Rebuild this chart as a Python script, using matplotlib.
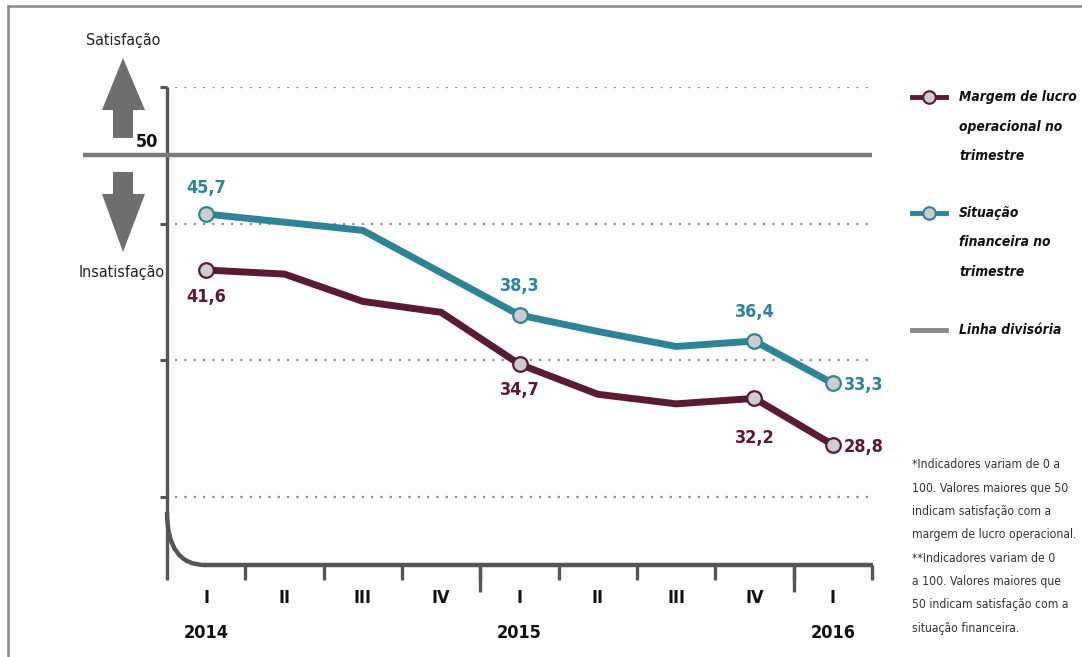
import os
import numpy as np
import matplotlib
matplotlib.use("Agg")
import matplotlib.pyplot as plt
from matplotlib import font_manager
from matplotlib.font_manager import FontProperties
from matplotlib.patches import Polygon, PathPatch
from matplotlib.path import Path

# ---------------------------------------------------------------- #
# Data
# ---------------------------------------------------------------- #
quarters = ['I', 'II', 'III', 'IV', 'I', 'II', 'III', 'IV', 'I']
years = ['2014', '2015', '2016']
year_pos = [0, 4, 8]
margem = [41.6, 41.3, 39.3, 38.5, 34.7, 32.5, 31.8, 32.2, 28.8]
situacao = [45.7, 45.1, 44.5, 41.4, 38.3, 37.1, 36.0, 36.4, 33.3]
labelled = [0, 4, 7, 8]          # points that carry a value label
divisoria = 50

legend_margem = ['Margem de lucro', 'operacional no', 'trimestre']
legend_situacao = ['Situação', 'financeira no', 'trimestre']
legend_linha = ['Linha divisória']
notes = ['*Indicadores variam de 0 a',
         '100. Valores maiores que 50',
         'indicam satisfação com a',
         'margem de lucro operacional.',
         '**Indicadores variam de 0',
         'a 100. Valores maiores que',
         '50 indicam satisfação com a',
         'situação financeira.']

# colours
TEAL = '#2b8599'
MAROON = '#5b1934'
GREY = '#7b7b7b'
MARKER = '#cdcdcd'

# ---------------------------------------------------------------- #
# fonts: look for a condensed family on the machine
# ---------------------------------------------------------------- #
families = [
    ('NotoSans-ExtraCondensed.ttf', 'NotoSans-ExtraCondensedBold.ttf', 'NotoSans-ExtraCondensedBoldItalic.ttf'),
    ('NotoSans-Condensed.ttf', 'NotoSans-CondensedBold.ttf', 'NotoSans-CondensedBoldItalic.ttf'),
    ('LiberationSansNarrow-Regular.ttf', 'LiberationSansNarrow-Bold.ttf', 'LiberationSansNarrow-BoldItalic.ttf'),
    ('DejaVuSansCondensed.ttf', 'DejaVuSansCondensed-Bold.ttf', 'DejaVuSansCondensed-BoldOblique.ttf'),
]
files = {os.path.basename(f.fname): f.fname for f in font_manager.fontManager.ttflist}
REG = BOLD = BI = None
for fam in families:
    if all(n in files for n in fam):
        REG, BOLD, BI = [FontProperties(fname=files[n]) for n in fam]
        break
if REG is None:
    REG = FontProperties(family='Liberation Sans')
    BOLD = FontProperties(family='Liberation Sans', weight='bold')
    BI = FontProperties(family='Liberation Sans', weight='bold', style='italic')

W, H = 1082, 657
fig = plt.figure(figsize=(W / 100, H / 100), dpi=100)
renderer = fig.canvas.get_renderer()


def sized(base, size):
    p = base.copy()
    p.set_size(size)
    return p


def fit(base, text, width_px):
    # font size so the longest line of a block is width_px wide
    t = fig.text(0, 0, text, fontproperties=base, fontsize=10)
    w = t.get_window_extent(renderer).width
    t.remove()
    return sized(base, 10 * width_px / w)


F_SIDE = sized(REG, 11.5)
F_VAL = sized(BOLD, 13)
F_TICK = sized(BOLD, 13)
F_LEG = fit(BI, 'Margem de lucro', 117)
F_NOTE = fit(REG, 'margem de lucro operacional.', 164)

# overlay in pixel coords for the decorations
ov = fig.add_axes([0, 0, 1, 1], zorder=0)
ov.set_xlim(0, W)
ov.set_ylim(H, 0)
ov.axis('off')

# data axes
L, R, T, B = 167, 872, 87, 565
ax = fig.add_axes([L / W, 1 - B / H, (R - L) / W, (B - T) / H], zorder=1)
ax.patch.set_alpha(0)
ax.set_xlim(-0.5, 8.5)
ax.set_ylim(20, 55)
for s in ax.spines.values():
    s.set_visible(False)

x = np.arange(len(quarters))

# dotted guide lines
for yv in [25, 35, 45, 55]:
    ax.axhline(yv, xmin=0.012, xmax=1.0, color='#8c8c8c', lw=1.6,
               linestyle=(0, (1, 3.2)), zorder=1)
ax.set_yticks([25, 35, 45, 55])
ax.tick_params(axis='y', length=5, width=2.2, color='#555555', labelleft=False)

# dividing line at 50
ax.plot([-0.119, 1.0], [divisoria, divisoria], transform=ax.get_yaxis_transform(),
        color=GREY, lw=3.2, clip_on=False, solid_capstyle='butt', zorder=2)
ax.annotate('50', xy=(0, divisoria), xycoords=ax.get_yaxis_transform(),
            xytext=(-9, 4), textcoords='offset pixels', ha='right', va='bottom',
            fontproperties=F_VAL, color='#111111')

# series
ax.plot(x, situacao, color=TEAL, lw=5, marker='o', ms=10.5, mfc=MARKER, mec=TEAL,
        mew=1.6, markevery=labelled, zorder=4, solid_joinstyle='miter')
ax.plot(x, margem, color=MAROON, lw=5, marker='o', ms=10.5, mfc=MARKER, mec=MAROON,
        mew=1.6, markevery=labelled, zorder=4, solid_joinstyle='miter')

# value labels
off_sit = {0: (0, 26), 4: (0, 29), 7: (0, 29), 8: (11, -2)}
off_mar = {0: (0, -27), 4: (0, -26), 7: (0, -40), 8: (11, -2)}
for i in labelled:
    for vals, offs, c in [(situacao, off_sit, TEAL), (margem, off_mar, MAROON)]:
        dx, dy = offs[i]
        ax.annotate(f'{vals[i]:.1f}'.replace('.', ','), xy=(x[i], vals[i]),
                    xytext=(dx, dy), textcoords='offset pixels',
                    ha='left' if dx else 'center', va='center',
                    fontproperties=F_VAL, color=c, zorder=5)

# x axis ticks and labels
ax.set_xticks(x)
ax.set_xticklabels(quarters, fontproperties=F_TICK, color='#111111')
ax.tick_params(axis='x', length=0, pad=17)
ax.set_xticks(np.arange(0.5, 9, 1), minor=True)
ax.tick_params(axis='x', which='minor', length=11, width=2.4, color='#555555')
ax.vlines([3.5, 7.5], -27 / (B - T), 0, transform=ax.get_xaxis_transform(),
          color='#555555', lw=2.4, clip_on=False)
for p, yr in zip(year_pos, years):
    ax.text(p, -68 / (B - T), yr, transform=ax.get_xaxis_transform(), ha='center',
            va='center', fontproperties=F_TICK, color='#111111')

# axis lines with rounded corner (pixel overlay)
ov.plot([L, L], [T, 580], color='#555555', lw=2.4, solid_capstyle='butt')
ov.plot([204, R + 1], [B, B], color='#555555', lw=3.2, solid_capstyle='butt')
corner = Path([(L, 512), (L, B), (205, B)], [Path.MOVETO, Path.CURVE3, Path.CURVE3])
ov.add_patch(PathPatch(corner, fill=False, ec='#555555', lw=3.2))

# arrows
ov.add_patch(Polygon([(113, 138), (113, 110), (102, 110), (123, 58), (145, 110),
                      (133, 110), (133, 138)], closed=True, fc='#6e6e6e', ec='none'))
ov.add_patch(Polygon([(113, 172), (113, 194), (102, 194), (123, 252), (145, 194),
                      (133, 194), (133, 172)], closed=True, fc='#6e6e6e', ec='none'))
ov.text(123, 41, 'Satisfação', ha='center', va='center', fontproperties=F_SIDE, color='#222222')
ov.text(122, 273, 'Insatisfação', ha='center', va='center', fontproperties=F_SIDE, color='#222222')

# frame
ov.plot([8, W], [6, 6], color='#8a8a8a', lw=1.8)
ov.plot([8, 8], [6, H], color='#8a8a8a', lw=1.8)

# legend
for yy, c, lines in [(97, MAROON, legend_margem), (213, TEAL, legend_situacao)]:
    ov.plot([912, 946], [yy, yy], color=c, lw=3.5)
    ov.plot([929], [yy], 'o', ms=9, mfc=MARKER, mec=c, mew=1.5)
    for k, t in enumerate(lines):
        ov.text(959, yy + k * 29.5, t, ha='left', va='center', fontproperties=F_LEG,
                color='#111111')
ov.plot([912, 946], [330, 330], color='#8a8a8a', lw=3.5)
ov.text(959, 330, legend_linha[0], ha='left', va='center', fontproperties=F_LEG,
        color='#111111')

# footnotes
for k, t in enumerate(notes):
    ov.text(912, 465 + k * 23.3, t, ha='left', va='center', fontproperties=F_NOTE,
            color='#333333')

fig.savefig('out.png', dpi=100)
